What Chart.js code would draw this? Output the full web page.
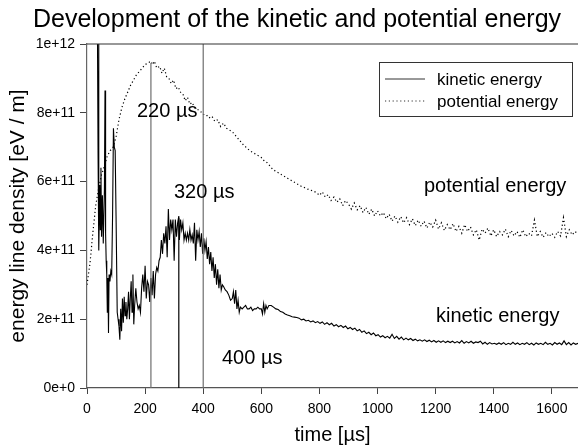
<!DOCTYPE html>
<html>
<head>
<meta charset="utf-8">
<script src="https://cdn.jsdelivr.net/npm/chart.js@4/dist/chart.umd.min.js"></script>
<style>
  html, body { margin: 0; padding: 0; background: #fff; }
  #wrap { width: 578px; height: 447px; }
</style>
</head>
<body>
<div id="wrap"><canvas id="energyChart"></canvas></div>
<script>
// values are given in units of 1e11 eV/m
const UNIT = 1e11;

// kinetic energy: time [µs] / value
const kinT = [36, 38, 40, 41, 44, 46, 48, 50, 53, 56, 60, 62, 64, 66, 68, 70, 72, 74, 76, 79,
  82, 85, 88, 91, 94, 97, 100, 104, 107, 110, 113, 116, 119, 122, 125, 128, 131, 134, 137, 140,
  143, 146, 149, 152, 155, 158, 161, 164, 168, 172, 176, 180, 184, 188, 192, 196, 200, 204, 208, 212,
  216, 220, 224, 228, 232, 236, 240, 244, 248, 252, 256, 260, 264, 268, 272, 276, 280, 284, 288, 292,
  296, 300, 304, 308, 312, 316, 318, 322, 326, 330, 334, 338, 342, 346, 350, 354, 358, 362, 366, 370,
  374, 378, 382, 386, 390, 394, 398, 402, 406, 410, 414, 418, 422, 426, 430, 434, 438, 442, 446, 450,
  454, 458, 462, 466, 470, 476, 482, 488, 494, 500, 504, 508, 512, 516, 520, 524, 528, 534, 540, 546,
  552, 558, 564, 570, 576, 582, 588, 594, 600, 604, 608, 612, 616, 620, 626, 634, 642, 650, 658, 666,
  674, 682, 690, 698, 706, 714, 722, 730, 738, 746, 754, 762, 770, 778, 786, 794, 802, 810, 818, 826,
  834, 842, 850, 858, 866, 874, 882, 890, 898, 906, 914, 922, 930, 938, 946, 954, 962, 970, 978, 986,
  994, 1002, 1010, 1018, 1026, 1034, 1042, 1050, 1058, 1066, 1074, 1082, 1090, 1098, 1106, 1114, 1122, 1130, 1138, 1146,
  1154, 1162, 1170, 1178, 1186, 1194, 1202, 1210, 1218, 1226, 1234, 1242, 1250, 1258, 1266, 1274, 1282, 1290, 1298, 1306,
  1314, 1322, 1330, 1338, 1346, 1354, 1362, 1370, 1378, 1386, 1394, 1402, 1410, 1418, 1426, 1434, 1442, 1450, 1458, 1466,
  1474, 1482, 1490, 1498, 1506, 1514, 1522, 1530, 1538, 1546, 1554, 1562, 1570, 1578, 1586, 1594, 1602, 1610, 1618, 1626,
  1634, 1642, 1650, 1658, 1666, 1674, 1682, 1690];
const kinE = [10.3, 6.9, 10.0, 4.0, 5.9, 4.6, 6.4, 4.4, 5.6, 4.2, 5.8, 8.65, 4.5, 3.7, 3.3, 2.2, 3.2, 1.6, 3.3, 3.1,
  3.4, 3.3, 5.0, 7.55, 7.0, 6.9, 5.0, 2.2, 2.0, 1.8, 1.4, 2.3, 1.65, 2.6, 1.9, 2.65, 2.1, 2.5, 2.0, 2.3,
  2.8, 2.0, 2.6, 3.1, 2.2, 3.3, 1.85, 2.4, 2.9, 2.5, 2.3, 2.4, 2.2, 2.9, 3.3, 2.8, 3.55, 2.6, 3.1, 3.0,
  2.5, 3.2, 2.7, 3.4, 2.6, 3.3, 3.5, 3.4, 3.7, 3.8, 4.3, 3.9, 4.5, 4.2, 4.7, 3.8, 5.2, 4.3, 4.9, 4.6,
  4.9, 3.7, 4.9, 4.4, 4.8, 5.0, 4.3, 4.9, 4.6, 4.8, 4.3, 4.5, 4.3, 4.5, 4.3, 4.6, 4.3, 4.45, 4.2, 4.8,
  3.7, 4.6, 4.3, 4.55, 4.1, 4.5, 3.9, 4.35, 4.0, 4.25, 3.75, 4.1, 3.6, 3.95, 3.4, 3.8, 3.2, 3.6, 3.0, 3.45,
  2.9, 3.3, 2.85, 3.0, 2.95, 2.85, 2.8, 2.7, 2.55, 2.6, 2.8, 2.45, 2.85, 2.3, 2.55, 2.2, 2.35, 2.3, 2.35, 2.4,
  2.3, 2.3, 2.35, 2.25, 2.3, 2.3, 2.35, 2.3, 2.3, 2.15, 2.45, 2.2, 2.4, 2.3, 2.4, 2.4, 2.35, 2.3, 2.28, 2.22,
  2.2, 2.15, 2.12, 2.1, 2.07, 2.06, 2.05, 2.03, 1.98, 2.0, 1.95, 1.97, 1.92, 1.95, 1.9, 1.93, 1.88, 1.92, 1.85, 1.9,
  1.84, 1.88, 1.8, 1.84, 1.78, 1.82, 1.76, 1.8, 1.72, 1.76, 1.7, 1.74, 1.66, 1.7, 1.62, 1.66, 1.58, 1.62, 1.55, 1.6,
  1.52, 1.55, 1.48, 1.52, 1.46, 1.5, 1.45, 1.56, 1.44, 1.5, 1.42, 1.48, 1.4, 1.45, 1.4, 1.44, 1.38, 1.42, 1.37, 1.4,
  1.36, 1.4, 1.35, 1.39, 1.34, 1.38, 1.33, 1.37, 1.33, 1.37, 1.32, 1.36, 1.32, 1.36, 1.31, 1.35, 1.31, 1.38, 1.3, 1.35,
  1.31, 1.36, 1.3, 1.34, 1.32, 1.36, 1.28, 1.33, 1.27, 1.32, 1.28, 1.3, 1.27, 1.31, 1.27, 1.32, 1.26, 1.3, 1.27, 1.33,
  1.27, 1.31, 1.26, 1.3, 1.27, 1.32, 1.26, 1.3, 1.25, 1.31, 1.27, 1.3, 1.26, 1.33, 1.27, 1.3, 1.25, 1.32, 1.27, 1.31,
  1.26, 1.37, 1.26, 1.32, 1.25, 1.31, 1.27, 1.3];

// potential energy: time [µs] / value
const potT = [0, 10, 20, 30, 40, 50, 60, 70, 80, 90, 100, 110, 120, 130, 140, 150, 160, 170, 180, 190,
  200, 210, 220, 226, 232, 240, 250, 258, 266, 274, 282, 290, 298, 306, 314, 322, 330, 338, 346, 354,
  362, 370, 380, 390, 400, 410, 420, 430, 440, 450, 460, 470, 480, 490, 500, 510, 520, 530, 540, 550,
  560, 570, 580, 590, 600, 610, 620, 630, 640, 650, 660, 670, 680, 690, 700, 710, 720, 730, 740, 750,
  760, 770, 780, 790, 800, 810, 820, 830, 840, 850, 860, 870, 880, 890, 900, 910, 920, 930, 940, 950,
  960, 970, 980, 990, 1000, 1010, 1020, 1030, 1040, 1050, 1060, 1070, 1080, 1090, 1100, 1110, 1120, 1130, 1140, 1150,
  1160, 1170, 1180, 1190, 1200, 1210, 1220, 1230, 1240, 1250, 1260, 1270, 1280, 1290, 1300, 1310, 1320, 1330, 1340, 1350,
  1360, 1370, 1380, 1390, 1400, 1410, 1420, 1430, 1440, 1450, 1460, 1470, 1480, 1490, 1500, 1510, 1520, 1530, 1540, 1550,
  1560, 1570, 1580, 1590, 1600, 1610, 1620, 1630, 1640, 1650, 1660, 1670, 1680, 1690];
const potE = [3.0, 3.6, 4.5, 5.3, 5.8, 6.2, 6.45, 6.75, 6.9, 7.0, 7.3, 7.8, 8.15, 8.4, 8.6, 8.8, 8.95, 9.1, 9.2, 9.3,
  9.4, 9.45, 9.5, 9.4, 9.5, 9.3, 9.35, 9.15, 9.3, 9.05, 9.0, 8.85, 8.95, 8.7, 8.75, 8.6, 8.55, 8.35, 8.45, 8.25,
  8.3, 8.15, 8.1, 8.05, 7.95, 7.95, 7.85, 7.9, 7.75, 7.8, 7.6, 7.7, 7.55, 7.5, 7.45, 7.35, 7.25, 7.15, 7.05, 6.98,
  6.9, 6.85, 6.8, 6.75, 6.7, 6.6, 6.55, 6.45, 6.35, 6.3, 6.25, 6.2, 6.15, 6.1, 6.05, 6.0, 5.95, 5.9, 5.85, 5.82,
  5.78, 5.75, 5.72, 5.68, 5.6, 5.7, 5.55, 5.62, 5.45, 5.55, 5.4, 5.5, 5.3, 5.45, 5.35, 5.2, 5.38, 5.18, 5.3, 5.1,
  5.25, 5.05, 5.2, 5.0, 5.15, 5.0, 5.1, 4.92, 5.05, 4.85, 5.0, 4.82, 4.98, 4.8, 4.95, 4.75, 4.92, 4.72, 4.88, 4.7,
  4.85, 4.65, 4.82, 4.68, 4.88, 4.62, 4.8, 4.58, 4.75, 4.6, 4.78, 4.55, 4.7, 4.5, 4.75, 4.55, 4.68, 4.45, 4.6, 4.3,
  4.62, 4.5, 4.65, 4.42, 4.6, 4.4, 4.55, 4.45, 4.62, 4.4, 4.58, 4.42, 4.55, 4.38, 4.6, 4.4, 4.5, 4.42, 4.88, 4.4,
  4.55, 4.38, 4.52, 4.4, 4.5, 4.38, 4.55, 4.42, 4.95, 4.4, 4.6, 4.45, 4.55, 4.48];

// marker lines at 220, 320 and 400 µs (drawn up to the curve they mark)
const markT = [220, 316, 400];
const markTop = [9.45, 4.95, 10];
const markColor = ['#6e6e6e', '#000000', '#6e6e6e'];

const xTicks = [0, 200, 400, 600, 800, 1000, 1200, 1400, 1600];
const yTicks = [0, 2, 4, 6, 8, 10];

const toPoints = (t, v) => t.map((x, i) => ({ x: x, y: v[i] * UNIT }));

const FONT = 'Liberation Sans, Arial, sans-serif';

const datasets = [];
markT.forEach((t, i) => {
    datasets.push({
        label: 'mark' + t,
        data: [{ x: t, y: 0 }, { x: t, y: markTop[i] * UNIT }],
        borderColor: markColor[i],
        borderWidth: 1.2,
        pointRadius: 0
    });
});
datasets.push({
    label: 'kinetic energy',
    data: toPoints(kinT, kinE),
    borderColor: '#000',
    borderWidth: 1.1,
    pointRadius: 0,
    tension: 0
});
datasets.push({
    label: 'potential energy',
    data: toPoints(potT, potE),
    borderColor: '#000',
    borderWidth: 1.2,
    borderDash: [1.2, 2.6],
    pointRadius: 0,
    tension: 0
});

// texts, legend and frame line
const overlay = {
    id: 'overlay',
    afterDraw(chart) {
        const ctx = chart.ctx;
        const a = chart.chartArea;
        ctx.save();
        ctx.fillStyle = '#000';
        ctx.textBaseline = 'alphabetic';

        // title
        ctx.font = '25px ' + FONT;
        ctx.textAlign = 'center';
        ctx.fillText('Development of the kinetic and potential energy', 297, 27);

        // top line
        ctx.strokeStyle = '#333';
        ctx.lineWidth = 1.2;
        ctx.beginPath();
        ctx.moveTo(a.left, a.top);
        ctx.lineTo(a.right, a.top);
        ctx.stroke();

        // annotations
        ctx.font = '20px ' + FONT;
        ctx.textAlign = 'left';
        ctx.fillText('220 µs', 137, 117);
        ctx.fillText('320 µs', 174, 198);
        ctx.fillText('400 µs', 222, 364);
        ctx.fillText('potential energy', 424, 192);
        ctx.fillText('kinetic energy', 436, 322);

        // legend
        ctx.fillStyle = '#fff';
        ctx.fillRect(379.5, 62.5, 193, 54);
        ctx.strokeStyle = '#333';
        ctx.lineWidth = 1;
        ctx.strokeRect(379.5, 62.5, 193, 54);
        ctx.beginPath();
        ctx.moveTo(385, 79);
        ctx.lineTo(425, 79);
        ctx.stroke();
        ctx.setLineDash([1.2, 2.6]);
        ctx.beginPath();
        ctx.moveTo(385, 101);
        ctx.lineTo(425, 101);
        ctx.stroke();
        ctx.setLineDash([]);
        ctx.fillStyle = '#000';
        ctx.font = '17px ' + FONT;
        ctx.fillText('kinetic energy', 437, 85);
        ctx.fillText('potential energy', 437, 107);
        ctx.restore();
    }
};

new Chart(document.getElementById('energyChart'), {
    type: 'line',
    data: { datasets: datasets },
    options: {
        responsive: true,
        maintainAspectRatio: false,
        animation: false,
        layout: { padding: { top: 44, right: 0, left: 0, bottom: 0 } },
        plugins: {
            legend: { display: false },
            title: { display: false },
            tooltip: { enabled: false }
        },
        scales: {
            x: {
                type: 'linear',
                min: 0,
                max: 1690,
                afterBuildTicks: s => { s.ticks = xTicks.map(v => ({ value: v })); },
                afterFit: s => { s.height = 59; },
                ticks: {
                    color: '#000',
                    font: { family: FONT, size: 14 },
                    padding: 7,
                    maxRotation: 0,
                    callback: v => String(v)
                },
                grid: { drawOnChartArea: false, tickLength: 6, tickColor: '#444' },
                border: { color: '#555', width: 1.2 },
                title: {
                    display: true,
                    text: 'time [µs]',
                    color: '#000',
                    font: { family: FONT, size: 20 },
                    padding: { top: 0, bottom: 0 }
                }
            },
            y: {
                min: 0,
                max: 10 * UNIT,
                afterBuildTicks: s => { s.ticks = yTicks.map(v => ({ value: v * UNIT })); },
                afterFit: s => { s.width = 87; },
                ticks: {
                    color: '#000',
                    font: { family: FONT, size: 14 },
                    padding: 5,
                    callback: v => v.toExponential()
                },
                grid: { drawOnChartArea: false, tickLength: 7, tickColor: '#444' },
                border: { color: '#666', width: 1.2 },
                title: {
                    display: true,
                    text: 'energy line density [eV / m]',
                    color: '#000',
                    font: { family: FONT, size: 21 },
                    padding: { top: 6, bottom: 0 }
                }
            }
        }
    },
    plugins: [overlay]
});
</script>
</body>
</html>
